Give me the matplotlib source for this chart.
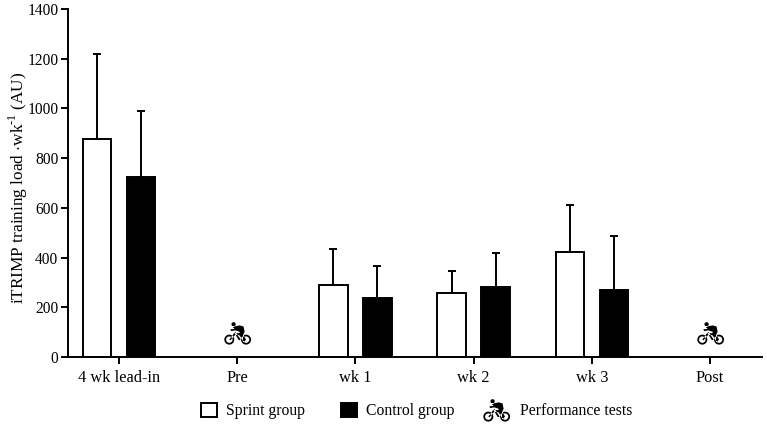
#!/usr/bin/env python
# iTRIMP training load per week, sprint vs control group
import numpy as np
import matplotlib
matplotlib.use("Agg")
import matplotlib.pyplot as plt
from matplotlib.path import Path
from matplotlib.patches import Rectangle
from matplotlib.lines import Line2D

plt.rcParams["font.family"] = ["Liberation Serif", "DejaVu Serif"]
plt.rcParams["mathtext.fontset"] = "custom"
plt.rcParams["mathtext.rm"] = "Liberation Serif"

categories = ["4 wk lead-in", "Pre", "wk 1", "wk 2", "wk 3", "Post"]
sprintPos = [0, 2, 3, 4]
sprintMean = [878, 288, 256, 424]
sprintSD = [340, 148, 91, 188]
controlMean = [724, 236, 280, 270]
controlSD = [266, 131, 138, 216]
testPos = [1, 5]
testLevel = [100, 100]
yTicks = [0, 200, 400, 600, 800, 1000, 1200, 1400]


def ring(cx, cy, r, rIn):
    t = np.linspace(0, 2 * np.pi, 41)
    outer = np.column_stack((cx + r * np.cos(t), cy + r * np.sin(t)))
    inner = np.column_stack((cx + rIn * np.cos(t[::-1]), cy + rIn * np.sin(t[::-1])))
    return Path.make_compound_path(Path(outer, closed=True), Path(inner, closed=True))


def poly(pts):
    pts = list(pts) + [pts[0]]
    return Path(pts, closed=True)


def bikeMarker():
    # outline is in zoomed pixels round the icon centre, y up
    parts = [
        ring(-23, -20, 14, 9),
        ring(24, -20, 14, 9),
        ring(-11, 23, 6, 0.1),
        poly([(-14, 16), (6, 20), (17, 17), (20, 2), (15, -8), (22, -24), (17, -26), (6, -8),
              (6, 2), (-6, 6), (-18, 4), (-20, 9), (-8, 10)]),
        poly([(-23, -20), (-9, -1), (14, -3), (24, -20), (21, -22), (12, -8), (-7, -7), (-20, -22)]),
        poly([(-9, -1), (4, -22), (9, -20), (-5, 1)]),
    ]
    return Path.make_compound_path(*parts)


bike = bikeMarker()
bikeSize = 19.5

fig = plt.figure(figsize=(7.67, 4.28), dpi=100)
w, h = 767.0, 428.0
ax = fig.add_axes([68 / w, 1 - 357 / h, (762 - 68) / w, (357 - 9) / h])

barW = 0.24
off = 0.186
x = np.array(sprintPos, dtype=float)
errStyle = dict(ecolor="black", elinewidth=1.4, capsize=3, capthick=1.4)
ax.bar(x - off, sprintMean, barW, color="white", edgecolor="black", linewidth=1.4,
       yerr=[np.zeros(len(sprintSD)), sprintSD], error_kw=errStyle)
ax.bar(x + off, controlMean, barW, color="black", edgecolor="black", linewidth=1.4,
       yerr=[np.zeros(len(controlSD)), controlSD], error_kw=errStyle)
ax.plot(testPos, testLevel, ls="none", marker=bike, ms=bikeSize, color="black", mew=0)

ax.set_xlim((68 - 119) / 118.2, (762 - 119) / 118.2)
ax.set_ylim(0, 1400)
ax.set_xticks(range(len(categories)))
ax.set_xticklabels(categories)
ax.set_yticks(yTicks)
ax.tick_params(axis="both", width=1.4, length=5, pad=2)
ax.tick_params(axis="x", labelsize=11.8, pad=4)
ax.tick_params(axis="y", labelsize=11.2)
ax.spines["top"].set_visible(False)
ax.spines["right"].set_visible(False)
ax.spines["left"].set_linewidth(1.4)
ax.spines["bottom"].set_linewidth(1.4)
fig.text(18 / w, 1 - 188 / h, "iTRIMP training load $\\cdot$wk$^{\\mathregular{\u20101}}$ (AU)",
         fontsize=12.4, rotation=90, va="center", ha="center")

# legend is laid out by hand along the bottom
fig.add_artist(Rectangle((201 / w, 1 - 417 / h), 16 / w, 14 / h, transform=fig.transFigure,
                         fc="white", ec="black", lw=1.4))
fig.text(226 / w, 1 - 411 / h, "Sprint group", fontsize=11.3, va="center")
fig.add_artist(Rectangle((341 / w, 1 - 417 / h), 16 / w, 14 / h, transform=fig.transFigure,
                         fc="black", ec="black", lw=1.4))
fig.text(366 / w, 1 - 411 / h, "Control group", fontsize=11.3, va="center")
fig.add_artist(Line2D([496 / w], [1 - 409 / h], transform=fig.transFigure, ls="none",
                      marker=bike, ms=bikeSize, color="black", mew=0))
fig.text(520 / w, 1 - 411 / h, "Performance tests", fontsize=11.3, va="center")

fig.savefig("out.png", dpi=100)
